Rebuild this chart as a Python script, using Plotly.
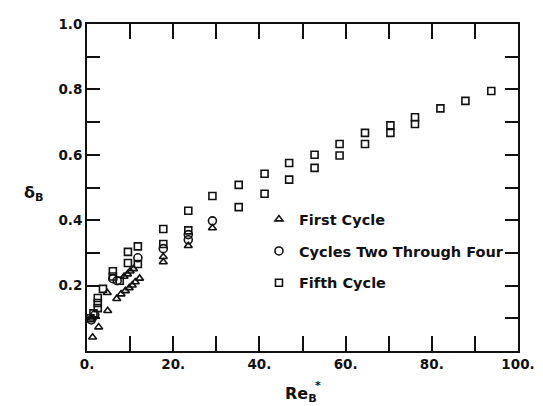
import plotly.graph_objects as go

# ---- data ----
first_x = [1.3, 2.7, 1.2, 4.7, 4.8, 6.9, 7.9, 8.9, 9.8, 10.5, 11.2, 12.2,
           8.6, 9.4, 10.0, 10.8, 17.7, 17.7, 23.5, 29.1]
first_y = [0.042, 0.073, 0.100, 0.178, 0.123, 0.160, 0.174, 0.184, 0.193, 0.201, 0.211, 0.222,
           0.228, 0.235, 0.244, 0.251, 0.272, 0.288, 0.322, 0.376]

mid_x = [1.0, 1.8, 6.0, 7.0, 11.8, 17.7, 23.5, 23.5, 29.1]
mid_y = [0.095, 0.110, 0.221, 0.215, 0.285, 0.313, 0.356, 0.340, 0.398]

fifth_x = [0.8, 1.5, 2.5, 2.5, 2.5, 3.7, 6.0, 6.0, 7.6, 9.5, 9.5, 11.8, 11.8,
           17.7, 17.7, 23.5, 23.5, 29.1, 35.2, 35.2, 41.2, 41.2, 46.9, 46.9,
           52.8, 52.8, 58.6, 58.6, 64.5, 64.5, 70.4, 70.4, 76.1, 76.1, 82.0, 87.8, 93.8]
fifth_y = [0.100, 0.115, 0.131, 0.147, 0.162, 0.190, 0.244, 0.228, 0.215, 0.303, 0.269, 0.320, 0.266,
           0.373, 0.327, 0.429, 0.369, 0.474, 0.508, 0.440, 0.542, 0.481, 0.575, 0.524,
           0.600, 0.560, 0.633, 0.598, 0.667, 0.633, 0.690, 0.667, 0.715, 0.694, 0.742, 0.765, 0.795]

series_names = ["First Cycle", "Cycles Two Through Four", "Fifth Cycle"]

x_tickvals = [0, 10, 20, 30, 40, 50, 60, 70, 80, 90, 100]
x_ticktext = ["0.", "", "20.", "", "40.", "", "60.", "", "80.", "", "100."]
y_tickvals = [0.1, 0.2, 0.3, 0.4, 0.5, 0.6, 0.7, 0.8, 0.9, 1.0]
y_ticktext = ["", "0.2", "", "0.4", "", "0.6", "", "0.8", "", "1.0"]

FONT = "DejaVu Sans"
BLACK = "#111111"

fig = go.Figure()
specs = [(first_x, first_y, "triangle-up-open", 7),
         (mid_x, mid_y, "circle-open", 8),
         (fifth_x, fifth_y, "square-open", 7)]
for i, ((xs, ys, sym, sz), name) in enumerate(zip(specs, series_names)):
    fig.add_trace(go.Scatter(
        x=xs, y=ys, mode="markers", name=name, legendgroup=str(i),
        marker=dict(symbol=sym, size=sz, color=BLACK, line=dict(color=BLACK, width=1.6)),
    ))

axis_common = dict(
    showline=True, linecolor=BLACK, linewidth=2, mirror="ticks",
    ticks="inside", tickcolor=BLACK, tickwidth=2,
    showgrid=False, zeroline=False,
    tickfont=dict(family=FONT, size=13.5, color=BLACK, weight="bold"),
)

fig.update_xaxes(range=[0, 100], tickmode="array", tickvals=x_tickvals, ticktext=x_ticktext,
                 ticklen=15, **axis_common)
fig.update_yaxes(range=[0, 1.0], tickmode="array", tickvals=y_tickvals, ticktext=y_ticktext,
                 ticklen=13, **axis_common)

# the page body adds an 8 px offset; figure is sized to fit the remaining window
fig.update_layout(
    width=535, height=398,
    margin=dict(l=79, r=20, t=8, b=55),
    paper_bgcolor="white", plot_bgcolor="white",
    showlegend=True,
    legend=dict(x=0.399, y=0.452, xanchor="left", yanchor="top",
                bgcolor="rgba(0,0,0,0)", tracegroupgap=10,
                font=dict(family=FONT, size=14.5, color=BLACK, weight="bold")),
    annotations=[
        dict(text="δ<sub>B</sub>", xref="paper", yref="paper", x=-0.124, y=0.483,
             xanchor="center", yanchor="middle",
             showarrow=False, font=dict(family=FONT, size=16, color=BLACK, weight="bold")),
        dict(text="Re<sub>B</sub>", xref="paper", yref="paper", x=0.497, y=-0.132,
             xanchor="center", yanchor="middle",
             showarrow=False, font=dict(family=FONT, size=16, color=BLACK, weight="bold")),
        dict(text="*", xref="paper", yref="paper", x=0.536, y=-0.105,
             xanchor="center", yanchor="middle",
             showarrow=False, font=dict(family=FONT, size=11, color=BLACK, weight="bold")),
    ],
)

fig.write_html("out.html")
